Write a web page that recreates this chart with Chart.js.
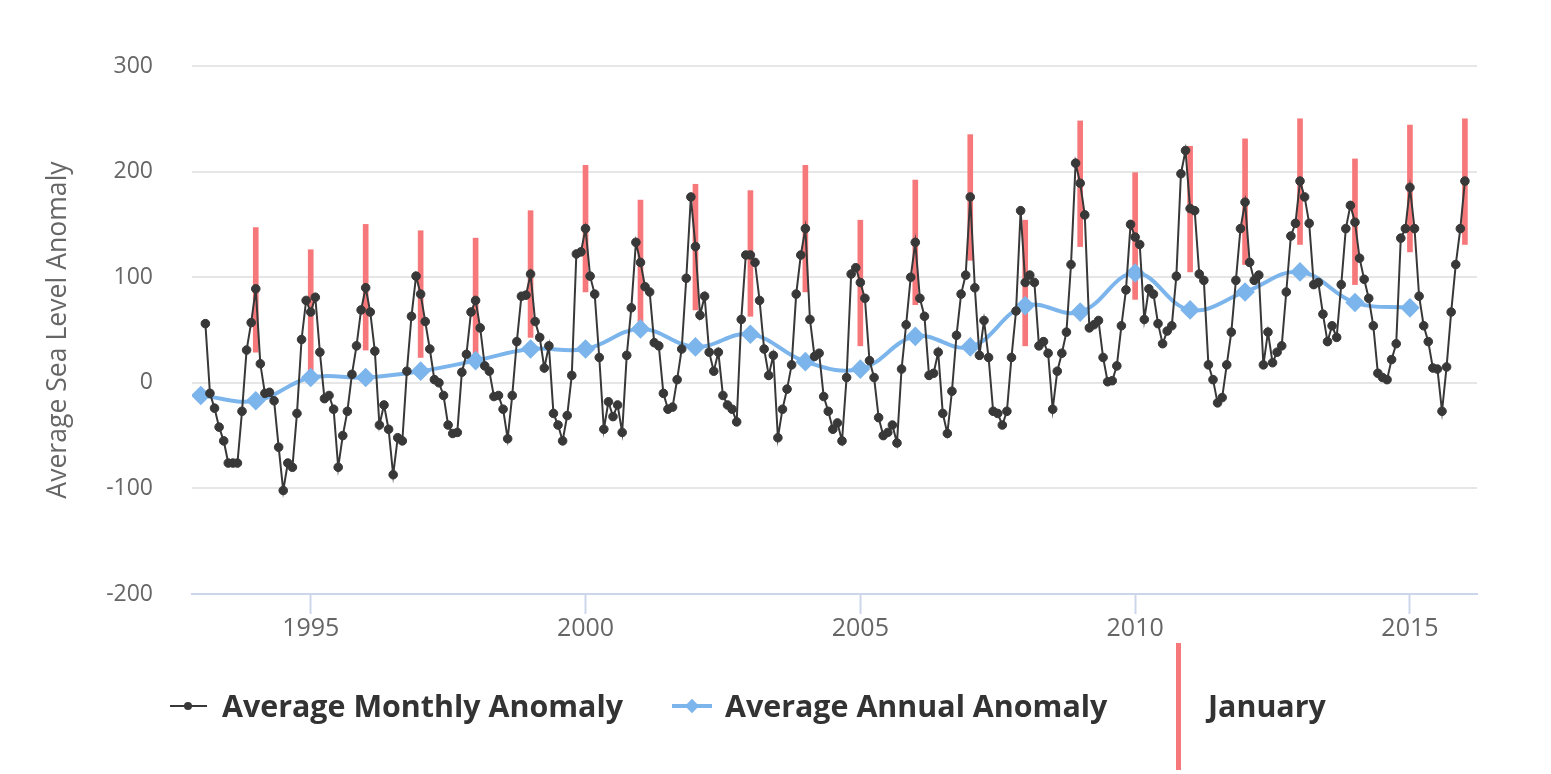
<!DOCTYPE html>
<html>
<head>
<meta charset="utf-8">
<script src="https://cdn.jsdelivr.net/npm/chart.js@4.4.1/dist/chart.umd.min.js"></script>
<style>
  html, body { margin: 0; padding: 0; background: #fff; }
  #wrap { position: relative; width: 1551px; height: 774px; font-family: "Open Sans", sans-serif; }
  #c { position: absolute; left: 0; top: 0; }
  .lg { position: absolute; }
  .lg-text { position: absolute; top: 686px; line-height: 40px; font-size: 30.4px; font-weight: 700; color: #333; white-space: nowrap; }
</style>
</head>
<body>
<div id="wrap">
  <canvas id="c" width="1551" height="774"></canvas>
  <div id="legend"></div>
</div>
<script>
// ---- Data ----

const startYear = 1993;
const startMonth = 2; // first monthly value is February 1993

// Average monthly anomaly, Feb 1993 .. Jan 2016 (one row per Feb..Jan)
const monthlyAnomaly = [
  56, -10, -24, -42, -55, -76, -76, -76, -27, 31, 57, 89,
  18, -10, -9, -17, -61, -102, -76, -80, -29, 41, 78, 67,
  81, 29, -15, -12, -25, -80, -50, -27, 8, 35, 69, 90,
  67, 30, -40, -21, -44, -87, -52, -55, 11, 63, 101, 84,
  58, 32, 3, 0, -12, -40, -48, -47, 10, 27, 67, 78,
  52, 16, 11, -13, -12, -25, -53, -12, 39, 82, 83, 103,
  58, 43, 14, 35, -29, -40, -55, -31, 7, 122, 124, 146,
  101, 84, 24, -44, -18, -32, -21, -47, 26, 71, 133, 114,
  91, 86, 38, 35, -10, -25, -23, 3, 32, 99, 176, 129,
  64, 82, 29, 11, 29, -12, -21, -25, -37, 60, 121, 121,
  114, 78, 32, 7, 26, -52, -25, -6, 17, 84, 121, 146,
  60, 25, 28, -13, -27, -44, -38, -55, 5, 103, 109, 95,
  80, 21, 5, -33, -50, -47, -40, -57, 13, 55, 100, 133,
  80, 63, 7, 9, 29, -29, -48, -8, 45, 84, 102, 176,
  90, 26, 59, 24, -27, -29, -40, -27, 24, 68, 163, 95,
  102, 95, 35, 39, 28, -25, 11, 28, 48, 112, 208, 189,
  159, 52, 55, 59, 24, 1, 2, 16, 54, 88, 150, 138,
  131, 60, 89, 84, 56, 37, 49, 54, 101, 198, 220, 165,
  163, 103, 97, 17, 3, -19, -14, 17, 48, 97, 146, 171,
  114, 97, 102, 17, 48, 19, 29, 35, 86, 139, 151, 191,
  176, 151, 93, 95, 65, 39, 54, 43, 93, 146, 168, 152,
  118, 98, 80, 54, 9, 5, 3, 22, 37, 137, 146, 185,
  146, 82, 54, 39, 14, 13, -27, 15, 67, 112, 146, 191
];

// Average annual anomaly
const annualYears = [1993, 1994, 1995, 1996, 1997, 1998, 1999, 2000, 2001, 2002, 2003, 2004,
  2005, 2006, 2007, 2008, 2009, 2010, 2011, 2012, 2013, 2014, 2015];
const annualAnomaly = [-12, -17, 5, 5, 11, 21, 32, 32, 51, 34, 46, 20,
  13, 44, 34, 73, 67, 104, 69, 86, 105, 76, 71];

// January range bars
const januaryYears = [1994, 1995, 1996, 1997, 1998, 1999, 2000, 2001, 2002, 2003, 2004, 2005,
  2006, 2007, 2008, 2009, 2010, 2011, 2012, 2013, 2014, 2015, 2016];
const januaryLow = [29, 8, 31, 24, 18, 43, 86, 46, 69, 63, 86, 35,
  74, 116, 35, 129, 79, 105, 112, 131, 93, 124, 131];
const januaryHigh = [147, 126, 150, 144, 137, 163, 206, 173, 188, 182, 206, 154,
  192, 235, 154, 248, 199, 224, 231, 250, 212, 244, 250];

const xTickYears = [1995, 2000, 2005, 2010, 2015];
const yTicks = [-200, -100, 0, 100, 200, 300];

// ---- Colours ----

const monthlyColor = '#383838';
const annualColor = '#7cb5ec';
const januaryColor = '#f7787a';
const fontFamily = '"Open Sans", sans-serif';

// ---- Chart ----

const monthlyPoints = monthlyAnomaly.map((v, i) => ({ x: startYear + (startMonth - 1 + i) / 12, y: v }));
const annualPoints = annualYears.map((yr, i) => ({ x: yr, y: annualAnomaly[i] }));
const januaryBars = januaryYears.map((yr, i) => ({ x: yr, y: [januaryLow[i], januaryHigh[i]] }));

const chart = new Chart(document.getElementById('c'), {
  type: 'line',
  data: {
    datasets: [
      {
        label: 'Average Monthly Anomaly',
        data: monthlyPoints,
        borderColor: monthlyColor,
        backgroundColor: monthlyColor,
        borderWidth: 2,
        pointRadius: 4.3,
        pointBorderWidth: 1,
        pointHoverRadius: 4,
        tension: 0,
        order: 1,
      },
      {
        label: 'Average Annual Anomaly',
        data: annualPoints,
        borderColor: annualColor,
        backgroundColor: annualColor,
        borderWidth: 4,
        pointStyle: 'rectRot',
        pointRadius: 7,
        pointHoverRadius: 7,
        tension: 0.4,
        order: 2,
      },
      {
        type: 'bar',
        label: 'January',
        data: januaryBars,
        backgroundColor: januaryColor,
        barThickness: 5,
        order: 3,
      },
    ],
  },
  options: {
    responsive: false,
    devicePixelRatio: 1,
    animation: false,
    layout: { padding: { top: 66, right: 74, bottom: 130, left: 0 } },
    plugins: { legend: { display: false }, tooltip: { enabled: false } },
    scales: {
      x: {
        type: 'linear',
        min: 1992.84,
        max: 2016.22,
        offset: false,
        grid: { offset: false, drawOnChartArea: false, drawTicks: true, tickLength: 20, tickColor: '#ccd6eb', tickWidth: 2 },
        border: { color: '#ccd6eb', width: 2 },
        ticks: { color: '#666', font: { family: fontFamily, size: 25 }, padding: 0, maxRotation: 0, callback: v => String(v) },
        afterBuildTicks: s => { s.ticks = xTickYears.map(v => ({ value: v })); },
        afterFit: s => { s.height = 50; },
      },
      y: {
        min: -200,
        max: 300,
        grid: { color: '#e6e6e6', lineWidth: 2, drawTicks: false },
        border: { display: false },
        ticks: { color: '#666', font: { family: fontFamily, size: 23 }, padding: 39 },
        afterBuildTicks: s => { s.ticks = yTicks.map(v => ({ value: v })); },
        title: {
          display: true,
          text: 'Average Sea Level Anomaly',
          color: '#666',
          font: { family: fontFamily, size: 26.6 },
          padding: { top: 42, bottom: 0 },
        },
        afterFit: s => { s.width = 192; },
      },
    },
  },
});

// ---- Legend (HTML, below the plot) ----

function addEl(css) {
  const el = document.createElement('div');
  el.className = 'lg';
  el.style.cssText = css;
  document.getElementById('legend').appendChild(el);
  return el;
}

function addText(text, left) {
  const el = document.createElement('div');
  el.className = 'lg-text';
  el.style.left = left + 'px';
  el.textContent = text;
  document.getElementById('legend').appendChild(el);
}

const ds = chart.data.datasets;

// monthly: line + dot
addEl(`left:170px; top:705px; width:37px; height:2px; background:${monthlyColor};`);
addEl(`left:184px; top:702px; width:8px; height:8px; border-radius:50%; background:${monthlyColor};`);
addText(ds[0].label, 222);

// annual: line + diamond
addEl(`left:672px; top:704px; width:40px; height:4px; background:${annualColor};`);
addEl(`left:685px; top:699px; width:14px; height:14px; background:${annualColor}; transform:rotate(45deg) scale(0.72);`);
addText(ds[1].label, 725);

// january: tall red bar
addEl(`left:1176px; top:643px; width:5px; height:127px; background:${januaryColor};`);
addText(ds[2].label, 1208);
</script>
</body>
</html>
